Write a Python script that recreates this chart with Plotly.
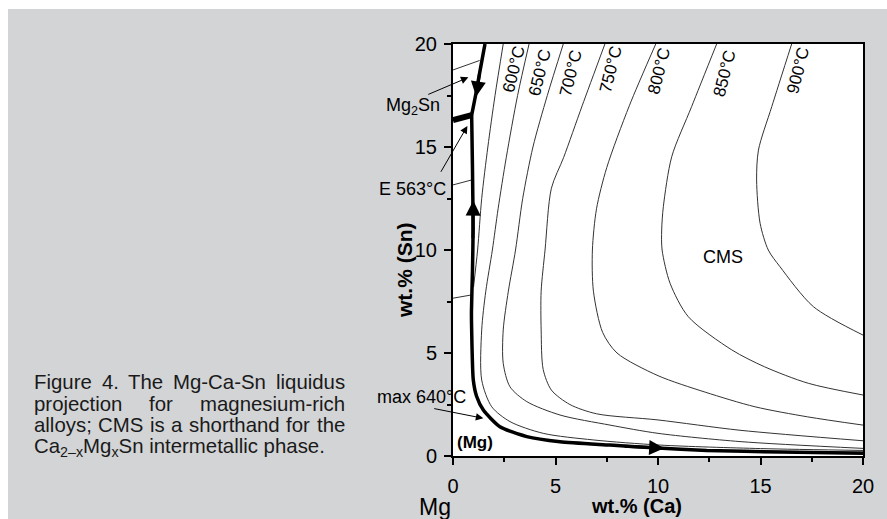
import plotly.graph_objects as go

# ---------------- data (wt.% Ca, wt.% Sn) ----------------
axis_ticks = [0, 5, 10, 15, 20]
minor_ticks = [2.5, 7.5, 12.5, 17.5]

iso_labels = ["600°C", "650°C", "700°C", "750°C", "800°C", "850°C", "900°C"]
iso_label_ca = [2.98, 4.24, 5.74, 7.69, 10.05, 13.22, 16.85]
iso_label_sn = [18.74, 18.62, 18.58, 18.77, 18.66, 18.54, 18.70]

t600_ca = [2.45, 2.05, 1.7, 1.4, 1.2, 1.0]
t600_sn = [20, 17.5, 15, 12.5, 10, 8.2]
t600b_ca = [12.5, 16, 20]
t600b_sn = [0.28, 0.22, 0.19]

t650_ca = [3.71, 3.15, 2.6, 2.2, 1.92, 1.6, 1.4, 1.4, 1.89, 2.78, 4.4, 6.84, 10.1, 15, 20]
t650_sn = [20, 17.5, 14.5, 12, 10, 8, 6.12, 3.69, 2.39, 1.67, 1.1, 0.78, 0.53, 0.36, 0.27]

t700_ca = [5.38, 4.6, 3.9, 3.4, 3.05, 2.7, 2.45, 2.45, 2.78, 3.6, 5.22, 7.66, 10.0, 14.0, 20]
t700_sn = [20, 17.5, 15, 12.5, 10, 8, 6.12, 4.5, 3.36, 2.64, 1.99, 1.5, 1.1, 0.7, 0.37]

t750_ca = [7.41, 6.3, 5.4, 4.8, 4.49, 4.3, 4.3, 4.4, 4.8, 5.7, 7.0, 10.0, 14.0, 20]
t750_sn = [20, 17, 14.5, 13.0, 10, 8, 6.12, 4.2, 3.2, 2.5, 2.05, 1.75, 1.25, 0.74]

t800_ca = [9.89, 8.6, 7.5, 7.0, 6.8, 6.85, 7.3, 8.0, 10.0, 12.3, 14.73, 17.3, 20]
t800_sn = [20, 17, 14, 12, 10, 8.0, 6.0, 5.0, 3.9, 3.1, 2.39, 1.9, 1.5]

t850_ca = [12.86, 11.64, 10.67, 10.26, 10.18, 10.2, 10.59, 11.48, 13.6, 15.2, 17.33, 20]
t850_sn = [20, 16.96, 14.53, 12.1, 10.97, 10, 8.38, 6.76, 5.15, 4.33, 3.53, 2.96]

t900_ca = [16.52, 15.55, 14.9, 14.81, 14.98, 15.38, 15.95, 17.58, 20]
t900_sn = [20, 16.96, 14.85, 13.4, 11.3, 10, 9.19, 7.25, 5.87]

# short isotherm pieces in the (Mg)/Mg2Sn corner
s1_ca, s1_sn = [0, 1.3], [18.74, 19.2]
s2_ca, s2_sn = [0, 0.91], [13.16, 13.4]
s3_ca, s3_sn = [0, 0.91], [7.66, 7.82]

# bold phase boundaries
b_top_ca = [0.91, 1.1, 1.3, 1.56]
b_top_sn = [16.55, 17.5, 18.6, 20]
b_eut_ca = [0, 0.91]
b_eut_sn = [16.3, 16.55]
b_main_ca = [0.91, 0.95, 0.98, 0.95, 0.9, 0.91, 0.99, 1.15, 1.48, 2.29, 3.6, 5.22, 7.66, 9.77, 12.38, 16, 20]
b_main_sn = [16.55, 14, 11, 9, 7, 6.12, 3.69, 2.9, 2.23, 1.42, 0.94, 0.69, 0.53, 0.40, 0.27, 0.19, 0.13]

# caption text (justified block, lines 1-3 justified, line 4 left)
cap_line1 = ["Figure", "4.", "The", "Mg-Ca-Sn", "liquidus"]
cap_line2 = ["projection", "for", "magnesium-rich"]
cap_line3 = ["alloys;", "CMS", "is", "a", "shorthand", "for", "the"]
cap_line4 = "Ca<sub>2–x</sub>Mg<sub>x</sub>Sn intermetallic phase."

# ---------------- figure ----------------
FONT = "Liberation Sans, Arial, Helvetica, sans-serif"
THIN = dict(color="#333333", width=1, shape="spline", smoothing=0.8)

fig = go.Figure()

thin_sets = [(t600_ca, t600_sn), (t600b_ca, t600b_sn), (t650_ca, t650_sn),
             (t700_ca, t700_sn), (t750_ca, t750_sn), (t800_ca, t800_sn),
             (t850_ca, t850_sn), (t900_ca, t900_sn),
             (s1_ca, s1_sn), (s2_ca, s2_sn), (s3_ca, s3_sn)]
for xs, ys in thin_sets:
    fig.add_trace(go.Scatter(x=xs, y=ys, mode="lines", line=THIN,
                             hoverinfo="skip", showlegend=False))

fig.add_trace(go.Scatter(x=b_eut_ca, y=b_eut_sn, mode="lines",
                         line=dict(color="black", width=6), showlegend=False))
fig.add_trace(go.Scatter(x=b_top_ca, y=b_top_sn, mode="lines",
                         line=dict(color="black", width=3.5, shape="spline", smoothing=0.6),
                         showlegend=False))
fig.add_trace(go.Scatter(x=b_main_ca, y=b_main_sn, mode="lines",
                         line=dict(color="black", width=3.5, shape="spline", smoothing=0.6),
                         showlegend=False))

ann = []
# isotherm labels
for t, xv, yv in zip(iso_labels, iso_label_ca, iso_label_sn):
    ann.append(dict(x=xv, y=yv, xref="x", yref="y", text=t, showarrow=False,
                    textangle=-76, font=dict(family=FONT, size=17, color="black")))

# arrows on the bold boundary
for (xt, yt, xa, ya) in [(1.13, 17.45, 1.3, 18.6), (0.99, 12.4, 0.97, 10.5), (10.3, 0.38, 8.3, 0.48)]:
    ann.append(dict(x=xt, y=yt, ax=xa, ay=ya, xref="x", yref="y", axref="x", ayref="y",
                    text="", showarrow=True, arrowhead=2, arrowwidth=3, arrowsize=1.0,
                    arrowcolor="black"))

# labelled pointer arrows
ann.append(dict(x=0.75, y=18.38, xref="x", yref="y", ax=-41.6, ay=17.7, text="",
                showarrow=True, arrowhead=2, arrowwidth=1, arrowsize=1.5, arrowcolor="black"))
ann.append(dict(x=0.70, y=16.02, xref="x", yref="y", ax=-27.3, ay=47.3, text="",
                showarrow=True, arrowhead=2, arrowwidth=1, arrowsize=1.5, arrowcolor="black"))
ann.append(dict(x=1.48, y=1.83, xref="x", yref="y", ax=-50.6, ay=-10, text="",
                showarrow=True, arrowhead=2, arrowwidth=1, arrowsize=1.5, arrowcolor="black"))

def ptext(x, y, text, size, xanchor="center", bold=False, angle=0, color="black", pad=1):
    if bold:
        text = "<b>" + text + "</b>"
    return dict(x=x, y=y, xref="paper", yref="paper", text=text, showarrow=False,
                xanchor=xanchor, yanchor="middle", textangle=angle, borderpad=pad,
                font=dict(family=FONT, size=size, color=color))

ann.append(ptext(-0.0268, 0.8495, "Mg<sub>2</sub>Sn", 18, "right"))
ann.append(ptext(-0.0122, 0.648, "E 563°C", 18, "right"))
ann.append(ptext(-0.19, 0.144, "max 640°C", 18, "left"))
ann.append(ptext(-0.0439, -0.124, "Mg", 23))
ann.append(ptext(0.4476, -0.1214, "wt.% (Ca)", 20, bold=True))
ann.append(ptext(-0.117, 0.4515, "wt.% (Sn)", 21, bold=True, angle=-90))

ann.append(dict(x=1.07, y=0.655, xref="x", yref="y", text="<b>(Mg)</b>", showarrow=False,
                font=dict(family=FONT, size=17, color="black")))
ann.append(dict(x=13.19, y=9.65, xref="x", yref="y", text="CMS", showarrow=False,
                font=dict(family=FONT, size=18, color="black")))

# caption: justify lines 1-3 between the block edges using Arial advance widths
ADV = {' ': 278, '.': 278, ';': 278, '-': 333, '4': 556, 'F': 611, 'T': 611,
       'M': 833, 'C': 722, 'S': 667, 'a': 556, 'c': 500, 'd': 556, 'e': 556,
       'f': 278, 'g': 556, 'h': 556, 'i': 222, 'j': 222, 'l': 222, 'm': 833,
       'n': 556, 'o': 556, 'p': 556, 'q': 556, 'r': 333, 's': 500, 't': 278,
       'u': 556, 'y': 500}
CAP = "#1a1a1a"
CS = 20.4
BLOCK_L, BLOCK_R = 33.0, 344.0

def word_w(w):
    return sum(ADV.get(ch, 556) for ch in w) / 1000.0 * CS

def add_justified(words, py):
    total = sum(word_w(w) for w in words)
    gap = (BLOCK_R - BLOCK_L - total) / (len(words) - 1)
    px = BLOCK_L
    for w in words:
        ann.append(ptext((px - 453) / 410, (456 - py) / 412, w, CS, "left", color=CAP, pad=0))
        px += word_w(w) + gap

add_justified(cap_line1, 382.0)
add_justified(cap_line2, 403.7)
add_justified(cap_line3, 425.4)
ann.append(ptext((BLOCK_L - 453) / 410, (456 - 447.5) / 412, cap_line4, CS, "left",
                 color=CAP, pad=0))

axis_common = dict(range=[0, 20], tickvals=axis_ticks, ticks="outside", ticklen=7,
                   tickwidth=1.5, tickcolor="black", showline=True, linewidth=2,
                   linecolor="black", mirror=True, showgrid=False, zeroline=False,
                   tickfont=dict(family=FONT, size=20, color="black"),
                   minor=dict(tickvals=minor_ticks, ticks="outside", ticklen=4,
                              tickwidth=1.5, tickcolor="black", showgrid=False))

fig.update_layout(
    width=887, height=519, autosize=False,
    margin=dict(l=453, r=24, t=44, b=63, pad=0),
    paper_bgcolor="#d3d4d6", plot_bgcolor="white",
    showlegend=False,
    xaxis=dict(axis_common, ticklabelstandoff=4),
    yaxis=dict(axis_common, ticklabelstandoff=3),
    annotations=ann,
    shapes=[
        dict(type="rect", xref="paper", yref="paper", x0=-1.2, x1=1.2,
             y0=(456 - 9) / 412, y1=1.2, fillcolor="white", line=dict(width=0), layer="below"),
        dict(type="rect", xref="paper", yref="paper", x0=-1.2, x1=(8 - 453) / 410,
             y0=-0.3, y1=1.2, fillcolor="white", line=dict(width=0), layer="below"),
    ],
)

fig.write_html("out.html")
